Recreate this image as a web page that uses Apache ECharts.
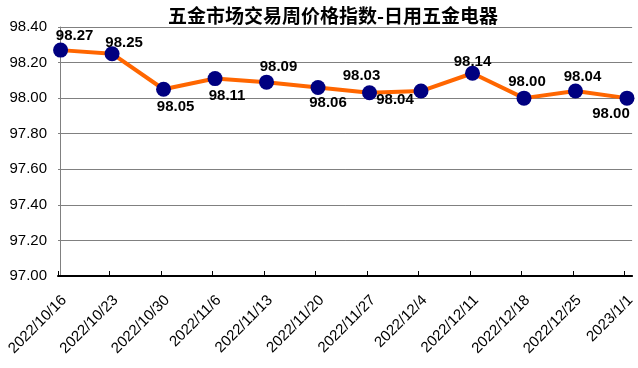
<!DOCTYPE html>
<html>
<head>
<meta charset="utf-8">
<script src="https://cdn.jsdelivr.net/npm/echarts@6/dist/echarts.min.js"></script>
<style>
html,body{margin:0;padding:0;background:#fff;}
#c{width:638px;height:368px;}
</style>
</head>
<body>
<div id="c"></div>
<script>
var titleText = '五金市场交易周价格指数-日用五金电器';
var categories = ['2022/10/16','2022/10/23','2022/10/30','2022/11/6','2022/11/13','2022/11/20','2022/11/27','2022/12/4','2022/12/11','2022/12/18','2022/12/25','2023/1/1'];
var values = [98.27, 98.25, 98.05, 98.11, 98.09, 98.06, 98.03, 98.04, 98.14, 98.00, 98.04, 98.00];
var yTicks = [97.00, 97.20, 97.40, 97.60, 97.80, 98.00, 98.20, 98.40];
// label placement (layout only): [dx, dy] from point centre
var labelOffsets = [[14,-14],[12,-11],[12,18],[12,17],[12,-15],[10,15],[-8,-17],[-26,9],[0,-11],[3,-16],[7,-14],[-16,16]];

var idx = categories.map(function(_, i){ return i; });
var chart = echarts.init(document.getElementById('c'), null, {renderer:'canvas'});
var font = '"Liberation Sans", Arial, sans-serif';
chart.setOption({
  animation: false,
  backgroundColor: '#ffffff',
  title: {
    text: titleText, left: 163, top: 1,
    textStyle: {fontFamily: '"Noto Sans CJK SC", sans-serif', fontSize: 19, fontWeight: 'bold', color: '#000'}
  },
  grid: {left: 58, right: 5, top: 27, bottom: 92},
  xAxis: {
    type: 'value', min: -0.05, max: 11.1,
    axisLine: {show: true, lineStyle: {color: '#000', width: 2}},
    axisTick: {show: true, inside: true, length: 5, lineStyle: {color: '#000', width: 1},
      customValues: idx.map(function(i){ return i - 0.05; })},
    axisLabel: {
      customValues: idx.map(function(i){ return i + 0.07; }),
      formatter: function(v){ var k = Math.round(v - 0.07); return categories[k] || ''; },
      rotate: 45, margin: 22, fontSize: 15, fontFamily: font, color: '#000'
    },
    splitLine: {show: false}
  },
  yAxis: {
    type: 'value', min: yTicks[0], max: yTicks[yTicks.length-1], interval: 0.2,
    axisLine: {show: true, lineStyle: {color: '#808080', width: 1}},
    axisTick: {show: false},
    axisLabel: {formatter: function(v){ return v.toFixed(2); }, fontSize: 15, fontFamily: font, color: '#000', margin: 11},
    splitLine: {show: true, lineStyle: {color: '#808080', width: 1}}
  },
  series: [{
    type: 'line',
    data: values.map(function(v, i){
      return {
        value: [i, v],
        label: {show: true, position: 'inside', offset: labelOffsets[i],
          formatter: function(p){ return p.value[1].toFixed(2); },
          fontSize: 15, fontWeight: 'bold', fontFamily: font, color: '#000'}
      };
    }),
    lineStyle: {color: '#FF6600', width: 4},
    symbol: 'circle', symbolSize: 15,
    itemStyle: {color: '#000080'},
    z: 3
  }]
});
</script>
</body>
</html>
